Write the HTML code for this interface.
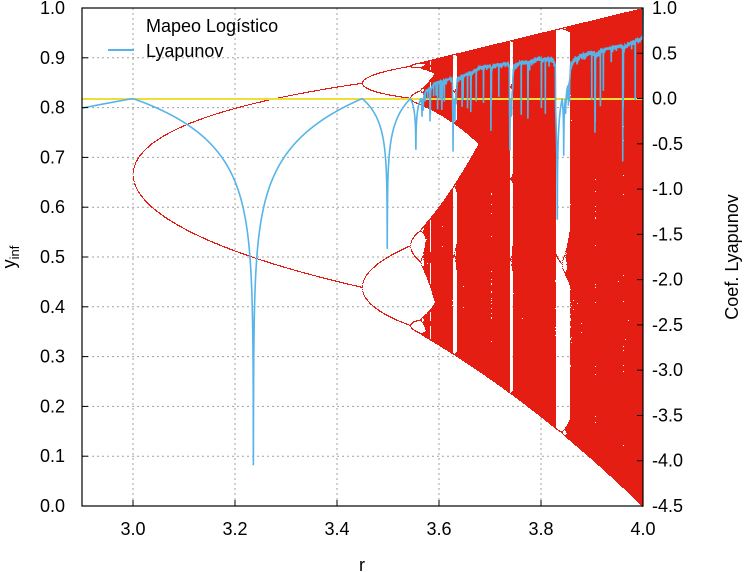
<!DOCTYPE html>
<html><head><meta charset="utf-8"><style>
html,body{margin:0;padding:0;background:#fff;}
svg{display:block;font-family:"Liberation Sans",sans-serif;}
</style></head><body>
<svg id="chart" width="744" height="572" viewBox="0 0 744 572">
<g id="grid"></g>
<g id="bif"></g>
<line x1="82" x2="643" y1="99" y2="99" stroke="#ecdf3a" stroke-width="2"/>
<g id="lyap"></g>
<rect x="82" y="8" width="561" height="498" fill="none" stroke="#000" stroke-width="1.2"/>
<g id="ticks"></g>
<g>
<text x="146" y="32" font-size="18">Mapeo Logístico</text>
<line x1="108" x2="134" y1="50" y2="50" stroke="#56b4e9" stroke-width="2"/>
<text x="146" y="57" font-size="18">Lyapunov</text>
</g>
<text x="362" y="571" font-size="18" text-anchor="middle">r</text>
<text transform="translate(15,257) rotate(-90)" font-size="18" text-anchor="middle">y<tspan font-size="13" dy="4">inf</tspan></text>
<text transform="translate(738,257) rotate(-90)" font-size="18" text-anchor="middle">Coef. Lyapunov</text>
</svg>
<script>
const rRange = [2.9, 4.0];
const bifStart = [3.0];
const yRange = [0, 1];
const lyRange = [-4.5, 1.0];
const xTicks = [3.0, 3.2, 3.4, 3.6, 3.8, 4.0];
const yTicks = [0.0, 0.1, 0.2, 0.3, 0.4, 0.5, 0.6, 0.7, 0.8, 0.9, 1.0];
const lyTicks = [-4.5, -4.0, -3.5, -3.0, -2.5, -2.0, -1.5, -1.0, -0.5, 0.0, 0.5, 1.0];
const lyapClip = [-4.05];
const iterCounts = [1500, 2500]; // transient, kept points
const lyapSamples = [4400];

const L=82,R=643,T=8,B=506;
const NS="http://www.w3.org/2000/svg";
const xs=r=>L+(r-rRange[0])/(rRange[1]-rRange[0])*(R-L);
const ys=y=>B-(y-yRange[0])/(yRange[1]-yRange[0])*(B-T);
const ls=v=>B-(v-lyRange[0])/(lyRange[1]-lyRange[0])*(B-T);
function mk(tag,attrs,parent){const e=document.createElementNS(NS,tag);for(const k in attrs)e.setAttribute(k,attrs[k]);parent.appendChild(e);return e;}
const grid=document.getElementById('grid'),ticks=document.getElementById('ticks');
xTicks.forEach(t=>{
  const x=xs(t);
  if(t<rRange[1]){const g=mk('line',{x1:x,x2:x,y1:T,y2:B,stroke:'#a0a0a0','stroke-dasharray':'2,3','stroke-width':1},grid);
  
  }
  const tk=mk('line',{x1:x,x2:x,y1:B,y2:B-6,stroke:'#000'},ticks);
  
  
  const tx=mk('text',{x:x,y:B+29,'font-size':18,'text-anchor':'middle'},ticks);
  tx.textContent=t.toFixed(1);
  
  
});
yTicks.forEach(t=>{
  const y=ys(t);
  if(t>yRange[0]&&t<yRange[1]){const g=mk('line',{x1:L,x2:R,y1:y,y2:y,stroke:'#a0a0a0','stroke-dasharray':'2,3','stroke-width':1},grid);
  
  }
  const tk=mk('line',{x1:L,x2:L+6,y1:y,y2:y,stroke:'#000'},ticks);
  
  
  const tx=mk('text',{x:L-17,y:y+6,'font-size':18,'text-anchor':'end'},ticks);
  tx.textContent=t.toFixed(1);
  
  
});
lyTicks.forEach(t=>{
  const y=ls(t);
  const tk=mk('line',{x1:R,x2:R-6,y1:y,y2:y,stroke:'#000'},ticks);
  
  
  const tx=mk('text',{x:R+9,y:y+6,'font-size':18,'text-anchor':'start'},ticks);
  tx.textContent=t.toFixed(1);
  
  
});
// Bifurcation diagram
let d='';
for(let px=Math.floor(xs(bifStart[0]));px<R;px++){
  const rows=new Uint8Array(B-T+2);
  for(let s=0;s<3;s++){
    const r=rRange[0]+(px-L+s/3)/(R-L)*(rRange[1]-rRange[0]);
    if(r<bifStart[0]-1e-9)continue;
    let x=0.5;
    for(let i=0;i<iterCounts[0];i++)x=r*x*(1-x);
    for(let i=0;i<iterCounts[1];i++){x=r*x*(1-x);const py=Math.round(ys(x))-T;if(py>=0&&py<rows.length)rows[py]=1;}
  }
  let i=0;
  while(i<rows.length){
    if(rows[i]){let j=i;while(j+1<rows.length&&rows[j+1])j++;d+='M'+px+' '+(i+T)+'h1v'+(j-i+1)+'h-1z';i=j+1;}else i++;
  }
}
const bp=mk('path',{d:d,fill:'#e41e12'},document.getElementById('bif'));


// Lyapunov exponent
let pts=[];
for(let k=0;k<=lyapSamples[0];k++){
  const r=rRange[0]+k/lyapSamples[0]*(rRange[1]-rRange[0]);
  let x=0.5;
  for(let i=0;i<400;i++)x=r*x*(1-x);
  let s=0;const n=600;
  for(let i=0;i<n;i++){x=r*x*(1-x);s+=Math.log(Math.abs(r*(1-2*x))+1e-12);}
  let v=s/n;if(v<lyapClip[0])v=lyapClip[0];if(v>lyRange[1])v=lyRange[1];
  pts.push(xs(r).toFixed(2)+','+ls(v).toFixed(2));
}
const lp=mk('polyline',{points:pts.join(' '),fill:'none',stroke:'#56b4e9','stroke-width':1.6},document.getElementById('lyap'));


</script>
</body></html>
